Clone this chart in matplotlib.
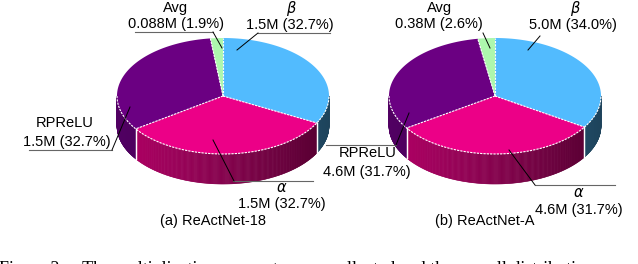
import numpy as np
import matplotlib
matplotlib.use("Agg")
import matplotlib.pyplot as plt
from matplotlib.collections import PolyCollection
from matplotlib.colors import to_rgb

plt.rcParams['font.family'] = ['Liberation Sans', 'DejaVu Sans']

# data
names = ['$\\beta$', '$\\alpha$', 'RPReLU', 'Avg']
colors = ['#52BBFE', '#EC0087', '#6B0082', '#ADF7AD']
titles = ['(a) ReActNet-18', '(b) ReActNet-A']
params_18 = [1.5, 1.5, 1.5, 0.088]
pct_18 = [32.7, 32.7, 32.7, 1.9]
params_A = [5.0, 4.6, 4.6, 0.38]
pct_A = [34.0, 31.7, 31.7, 2.6]

# layout (pixels)
W, H = 638, 264
RX, RY, DEPTH = 106, 58, 30


def pt(cx, cy, a, r=1.0):
    a = np.radians(a)
    return cx + r * RX * np.cos(a), cy - r * RY * np.sin(a)


def draw_pie(ax, cx, cy, pcts):
    starts, ends = [], []
    s = 90.0
    for p in pcts:
        starts.append(s)
        s = s - 360 * p / 100
        ends.append(s)

    # side wall, shaded by x position
    for i, (s0, e0) in enumerate(zip(starts, ends)):
        lo, hi = max(e0, -180), min(s0, 0)
        if hi <= lo:
            continue
        ang = np.linspace(lo, hi, int((hi - lo) * 2) + 2)
        polys, cols = [], []
        base = np.array(to_rgb(colors[i]))
        for a0, a1 in zip(ang[:-1], ang[1:]):
            x0, y0 = pt(cx, cy, a0)
            x1, y1 = pt(cx, cy, a1)
            polys.append([(x0, y0), (x1, y1), (x1, y1 + DEPTH), (x0, y0 + DEPTH)])
            f = 0.56 - 0.2 * np.cos(np.radians((a0 + a1) / 2))
            cols.append(base * f)
        ax.add_collection(PolyCollection(polys, facecolors=cols, edgecolors=cols, linewidths=0.4))
        for a in (lo, hi):
            if -180 < a < 0:
                x, y = pt(cx, cy, a)
                ax.plot([x, x], [y, y + DEPTH], color='white', lw=0.9)

    # top faces
    for i, (s0, e0) in enumerate(zip(starts, ends)):
        ang = np.linspace(s0, e0, 200)
        xs, ys = pt(cx, cy, ang)
        xy = np.column_stack([np.r_[cx, xs], np.r_[cy, ys]])
        ax.fill(xy[:, 0], xy[:, 1], color=colors[i], lw=0)
    for a in starts:
        x, y = pt(cx, cy, a)
        ax.plot([cx, x], [cy, y], color='white', lw=0.8, ls=(0, (2, 1)))
    ang = np.linspace(-180, 0, 200)
    xs, ys = pt(cx, cy, ang)
    ax.plot(xs, ys, color='white', lw=0.8, ls=(0, (2, 1)))


def fmt(v):
    return ('%.3f' % v).rstrip('0') if v < 0.1 else ('%.2f' % v).rstrip('0') if v < 1 else '%.1f' % v


fig = plt.figure(figsize=(W / 100, H / 100), dpi=100)
ax = fig.add_axes([0, 0, 1, 1])
ax.set_xlim(0, W)
ax.set_ylim(H, 0)
ax.axis('off')

centers = [(223, 96), (495, 96)]
data = [(params_18, pct_18), (params_A, pct_A)]
# label text centre, value text centre, underline (x0, x1, y) or None, leader start, leader end
label_pos = [
    [((291, 9), (290, 25), (258, 330, 33), (258, 33), (237, 50)),
     ((282, 188), (282, 204), (233, 313, 181), (234, 181), (213, 140)),
     ((65, 123), (67, 142), (29, 112, 150), (112, 150), (130, 107)),
     ((176, 8), (176, 24), (135, 213, 32), (213, 32), (222, 48))],
    [((575, 9), (573, 25), None, (540, 36), (528, 50)),
     ((579, 193), (579, 210), (535, 615, 185), (535, 185), (509, 150)),
     ((368, 153), (367, 172), (326, 396, 145), (396, 145), (409, 113)),
     ((440, 8), (439, 24), None, (483, 33), (490, 48))],
]

for k in range(2):
    cx, cy = centers[k]
    vals, pcts = data[k]
    draw_pie(ax, cx, cy, pcts)
    for i in range(4):
        npos, vpos, ul, l0, l1 = label_pos[k][i]
        ax.text(*npos, names[i], ha='center', va='center', fontsize=10.5)
        ax.text(*vpos, '%sM (%.1f%%)' % (fmt(vals[i]), pcts[i]), ha='center', va='center', fontsize=10.5)
        if ul is not None:
            ax.plot([ul[0], ul[1]], [ul[2], ul[2]], color='#666666', lw=0.8)
        ax.plot([l0[0], l1[0]], [l0[1], l1[1]], color='black', lw=0.7)
    ax.text(cx - 10, 221, titles[k], ha='center', va='center', fontsize=10.5)

ax.text(-1, 274, 'Figure 2:    The multiplication parameters are collected and the overall distribution',
        fontsize=13, family='Liberation Serif', va='baseline', ha='left')

fig.savefig('out.png', dpi=100)
